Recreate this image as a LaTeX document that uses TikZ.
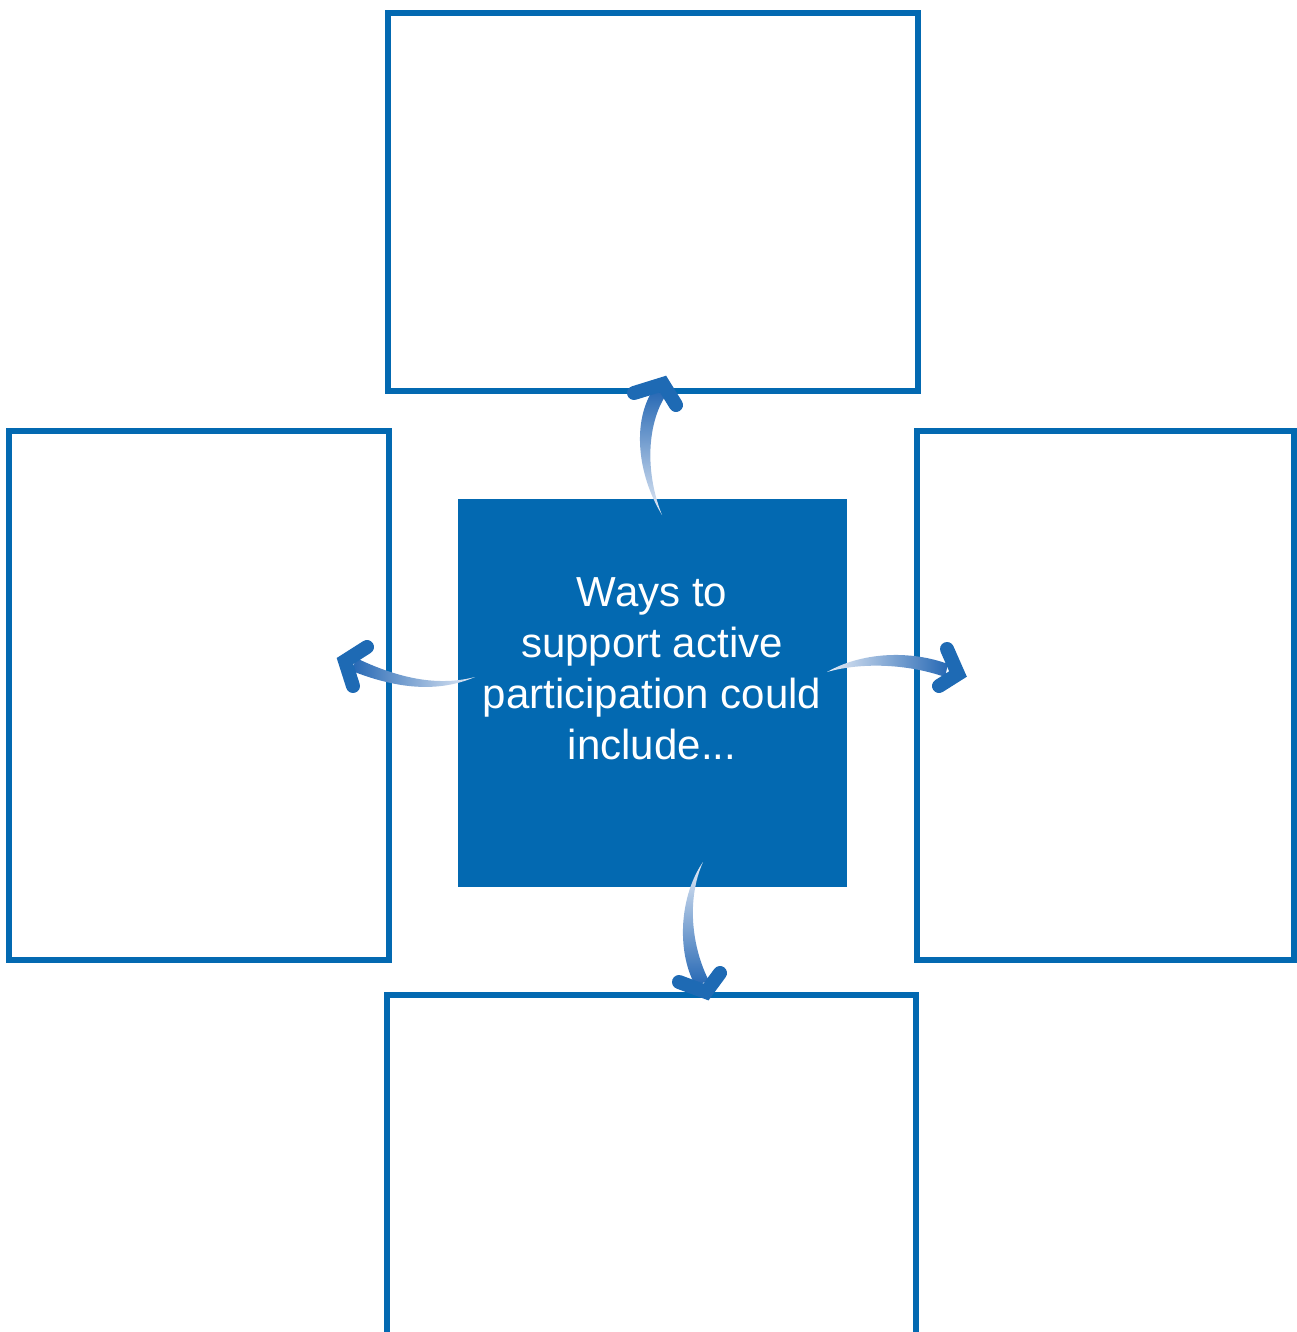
\documentclass[tikz,border=0pt]{standalone}
\usepackage{fontspec}
\setmainfont{Liberation Sans}
\definecolor{mainblue}{RGB}{3,105,177}
\definecolor{headblue}{RGB}{30,106,180}
\definecolor{taillight}{RGB}{228,235,246}
\definecolor{taildark}{RGB}{38,104,180}
\begin{document}
\begin{tikzpicture}[x=1pt,y=-1pt,
  framebox/.style={draw=mainblue, line width=6pt, rectangle, inner sep=0pt},
  centerbox/.style={fill=mainblue, rectangle, inner sep=0pt, minimum width=389pt, minimum height=388pt},
  arrowhead/.style={draw=headblue, line width=14pt, line cap=round, line join=miter}]
\useasboundingbox (0,0) rectangle (1297,1332);
\clip (0,0) rectangle (1297,1332);
% boxes
\node[framebox, minimum width=530pt, minimum height=378pt] (topbox) at (653,202) {};
\node[framebox, minimum width=380pt, minimum height=529pt] (leftbox) at (199,695.5) {};
\node[framebox, minimum width=377pt, minimum height=529pt] (rightbox) at (1105.5,695.5) {};
\node[framebox, minimum width=529pt, minimum height=405pt] (bottombox) at (651.5,1197.5) {};
\node[centerbox] (center) at (652.5,693) {};
\node[text=white, align=center, font=\fontsize{42}{51}\selectfont] (label) at (652,668.5)
  {Ways to\\support active\\participation could\\include...};
% arrow end coordinates
\coordinate (tTip) at (663,384);
\coordinate (lTip) at (345,661);
\coordinate (rTip) at (958,674);
\coordinate (bTip) at (706,992);
% top arrow
\shade[top color=taildark, bottom color=taillight]
  (662,515) .. controls (636,472) and (633,420) .. (653,390)
  -- (666,395) .. controls (648,422) and (644,470) .. (662,515) -- cycle;
\draw[arrowhead] (634,393) -- (tTip) -- (676,405);
% left arrow
\shade[left color=taildark, right color=taillight]
  (475,677) .. controls (440,692) and (400,690) .. (352,671)
  -- (356,658) .. controls (402,680) and (440,686) .. (475,677) -- cycle;
\draw[arrowhead] (367,647) -- (lTip) -- (353,686);
% right arrow
\shade[left color=taillight, right color=taildark]
  (827,672) .. controls (862,652) and (910,650) .. (948,664)
  -- (945,677) .. controls (908,664) and (862,662) .. (827,672) -- cycle;
\draw[arrowhead] (947,649) -- (rTip) -- (939,686);
% bottom arrow
\shade[top color=taillight, bottom color=taildark]
  (703,862) .. controls (680,895) and (676,950) .. (695,985)
  -- (709,981) .. controls (692,948) and (686,900) .. (703,862) -- cycle;
\draw[arrowhead] (679,982) -- (bTip) -- (720,973);
\end{tikzpicture}
\end{document}
